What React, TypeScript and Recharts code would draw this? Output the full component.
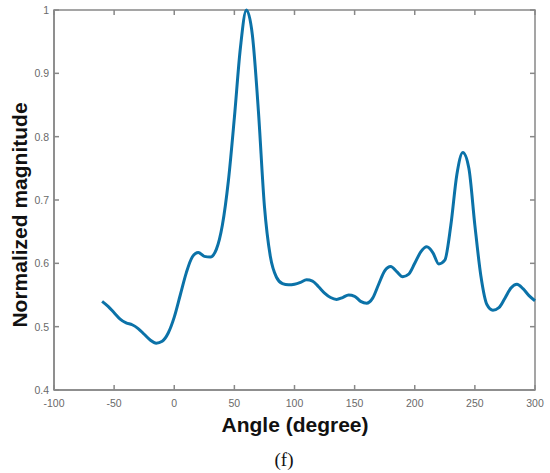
import React from "react";
import { ComposedChart, Line, XAxis, YAxis, Scatter, ReferenceArea, Customized } from "recharts";

const angles = [
  -60, -55, -50, -45, -40, -35, -30, -25, -20, -15, -10, -5, 0, 5, 10, 15, 20, 25, 30, 35,
  40, 45, 50, 55, 60, 65, 70, 75, 80, 85, 90, 95, 100, 105, 110, 115, 120, 125, 130, 135,
  140, 145, 150, 155, 160, 165, 170, 175, 180, 185, 190, 195, 200, 205, 210, 215, 220, 225,
  230, 235, 240, 245, 250, 255, 260, 265, 270, 275, 280, 285, 290, 295, 300,
];
const magnitudes = [
  0.54, 0.532, 0.522, 0.512, 0.506, 0.503, 0.497, 0.488, 0.479, 0.474, 0.477, 0.49, 0.515, 0.55,
  0.585, 0.61, 0.617, 0.611, 0.61, 0.622, 0.66, 0.73, 0.83, 0.94, 1.0, 0.96, 0.84, 0.69, 0.61,
  0.578, 0.568, 0.566, 0.567, 0.57, 0.574, 0.572, 0.563, 0.553, 0.546, 0.543, 0.546, 0.55, 0.548,
  0.54, 0.537, 0.545, 0.567, 0.588, 0.595, 0.587, 0.579, 0.583, 0.6, 0.618, 0.626, 0.617, 0.599,
  0.605, 0.66, 0.74, 0.775, 0.75, 0.66, 0.58, 0.535, 0.526, 0.53, 0.545, 0.561, 0.567, 0.56,
  0.549, 0.541,
];
const xTicks = [-100, -50, 0, 50, 100, 150, 200, 250, 300];
const yTicks = [0.4, 0.5, 0.6, 0.7, 0.8, 0.9, 1];
const X_MIN = -100;
const X_MAX = 300;
const Y_MIN = 0.4;
const Y_MAX = 1;

const data = angles.map((a, i) => ({ angle: a, mag: magnitudes[i] }));
const topMarks = xTicks.map((t) => ({ angle: t, mag: Y_MAX }));
const rightMarks = yTicks.map((t) => ({ angle: X_MAX, mag: t }));

const AXIS = "#888888";
const TICKTXT = "#6a6a6a";
const FONT = "'Liberation Sans', Arial, sans-serif";
const TL = 5;
const TW = 1.5;
const BM = 14;
const LM = 5;

const bottomLabel = (p: any) => {
  const x = Number(p.x);
  const y = Number(p.y);
  const ay = y - BM;
  return (
    <g>
      <rect x={x - TW / 2} y={ay - TL} width={TW} height={TL} fill={AXIS} />
      <text x={x} y={y} dy={3} textAnchor="middle" fontSize={10.5} fill={TICKTXT} fontFamily={FONT}>
        {p.payload.value}
      </text>
    </g>
  );
};
const leftLabel = (p: any) => {
  const x = Number(p.x);
  const y = Number(p.y);
  const ax = x + LM;
  return (
    <g>
      <rect x={ax} y={y - TW / 2} width={TL} height={TW} fill={AXIS} />
      <text x={x} y={y} dy={4} textAnchor="end" fontSize={10.5} fill={TICKTXT} fontFamily={FONT}>
        {p.payload.value}
      </text>
    </g>
  );
};

const vDown = (p: any) => {
  const cx = Number(p.cx ?? p.x);
  const cy = Number(p.cy ?? p.y);
  return <rect x={cx - TW / 2} y={cy} width={TW} height={TL} fill={AXIS} />;
};
const hLeft = (p: any) => {
  const cx = Number(p.cx ?? p.x);
  const cy = Number(p.cy ?? p.y);
  return <rect x={cx - TL} y={cy - TW / 2} width={TL} height={TW} fill={AXIS} />;
};

const Titles = () => (
  <g>
    <text x={295} y={432} textAnchor="middle" fontSize={21} fontWeight="bold" fill="#111" fontFamily={FONT}>
      Angle (degree)
    </text>
    <text
      x={27}
      y={215}
      transform="rotate(-90, 27, 215)"
      textAnchor="middle"
      fontSize={21}
      fontWeight="bold"
      fill="#111"
      fontFamily={FONT}
    >
      Normalized magnitude
    </text>
  </g>
);

export default function App() {
  return (
    <div style={{ position: "absolute", left: 0, top: 0, width: 550, height: 473, background: "#fff" }}>
      <ComposedChart width={550} height={473} data={data} margin={{ top: 10, right: 15, bottom: 0, left: 0 }}>
        <XAxis
          dataKey="angle"
          type="number"
          domain={[X_MIN, X_MAX]}
          ticks={xTicks}
          height={83}
          stroke={AXIS}
          strokeWidth={1.5}
          tickLine={false}
          tickSize={0}
          tickMargin={BM}
          tick={bottomLabel}
          interval={0}
        />
        <YAxis
          type="number"
          domain={[Y_MIN, Y_MAX]}
          ticks={yTicks}
          width={54}
          stroke={AXIS}
          strokeWidth={1.5}
          tickLine={false}
          tickSize={0}
          tickMargin={LM}
          tick={leftLabel}
          interval={0}
        />
        <ReferenceArea
          x1={X_MIN}
          x2={X_MAX}
          y1={Y_MIN}
          y2={Y_MAX}
          fill="none"
          fillOpacity={0}
          stroke={AXIS}
          strokeWidth={1.5}
          strokeOpacity={1}
          ifOverflow="visible"
        />
        <Scatter data={topMarks} dataKey="mag" shape={vDown} isAnimationActive={false} />
        <Scatter data={rightMarks} dataKey="mag" shape={hLeft} isAnimationActive={false} />
        <Customized component={Titles} />
        <Line
          type="monotone"
          dataKey="mag"
          stroke="#0b72a8"
          strokeWidth={3}
          dot={false}
          activeDot={false}
          isAnimationActive={false}
        />
      </ComposedChart>
      <div
        style={{
          position: "absolute",
          left: 0,
          width: 568,
          top: 450,
          textAlign: "center",
          fontFamily: "'Liberation Serif', 'Times New Roman', serif",
          fontSize: 19,
          lineHeight: "20px",
          color: "#111",
        }}
      >
        (f)
      </div>
    </div>
  );
}
